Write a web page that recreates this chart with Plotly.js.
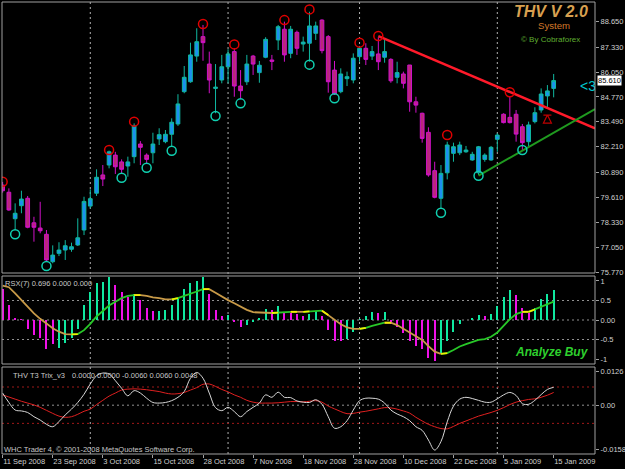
<!DOCTYPE html>
<html><head><meta charset="utf-8">
<script src="https://cdn.plot.ly/plotly-3.0.1.min.js"></script>
<style>html,body{margin:0;padding:0;background:#000;}#chart{width:625px;height:469px;}</style>
</head><body><div id="chart"></div>
<script>
// ---- data ----
const openP  = [80.24,79.87,78.51,79.18,79.56,78.30,78.03,77.71,76.30,76.73,76.90,76.94,77.16,77.93,79.16,79.82,80.76,81.27,81.78,81.43,81.22,81.70,82.35,81.78,81.90,82.61,82.47,82.85,83.38,85.04,85.55,86.87,87.87,86.46,85.21,85.64,86.32,87.10,85.33,85.55,86.87,86.02,86.81,86.67,87.70,88.25,87.01,88.09,87.49,87.53,88.04,88.72,87.87,86.15,85.04,85.71,85.64,86.84,87.27,86.87,86.98,86.81,86.70,85.78,85.95,86.41,84.52,83.93,82.95,80.98,79.56,80.87,81.87,81.90,81.95,81.53,80.87,81.56,81.53,82.59,83.88,83.72,83.88,83.24,82.47,83.50,84.10,84.82,85.21];
const highP  = [80.40,80.07,79.30,79.95,79.68,78.61,79.38,77.93,77.14,77.30,77.41,77.28,78.53,79.64,80.02,81.05,81.27,82.01,81.95,81.56,81.70,83.41,82.50,81.87,82.93,83.16,83.07,83.67,84.91,86.36,87.56,88.30,88.47,87.10,86.46,86.93,87.22,87.27,86.15,86.93,86.93,86.62,87.84,86.93,88.47,88.64,88.42,88.18,87.87,89.15,88.64,88.76,87.95,86.62,86.24,86.07,87.01,87.39,87.53,87.39,87.84,87.70,86.76,86.58,86.07,86.41,84.78,83.96,83.21,81.44,81.27,82.47,82.42,82.47,82.25,81.95,82.25,81.87,82.25,82.90,83.93,84.78,84.10,83.38,83.50,84.24,85.21,85.38,85.95];
const lowP   = [79.85,78.92,77.93,78.79,78.02,77.33,77.76,76.30,76.22,76.59,76.39,76.81,77.11,77.67,79.04,79.68,80.19,81.10,80.81,80.81,80.67,81.36,81.27,81.32,81.36,82.30,82.39,82.21,83.28,84.96,85.50,86.58,86.63,84.96,83.93,85.47,85.47,84.78,84.65,85.38,85.90,85.50,86.76,86.15,87.18,86.58,86.76,86.93,87.10,86.58,87.70,87.01,84.99,84.87,84.96,85.33,85.47,86.58,86.41,86.67,86.15,86.53,85.50,85.47,85.21,84.01,83.96,82.42,80.67,79.56,79.04,80.53,81.44,81.78,81.90,81.49,80.76,81.44,81.49,81.95,83.41,83.41,82.47,82.04,82.21,83.41,83.96,84.24,84.75];
const closeP = [79.95,78.96,78.79,79.52,78.07,78.07,77.89,76.39,76.64,76.90,77.12,77.07,77.53,79.40,79.54,80.64,80.55,81.95,81.18,81.05,81.43,83.28,82.18,81.56,82.35,82.83,82.85,83.47,84.41,85.78,86.93,87.61,87.56,85.64,85.27,86.32,86.98,85.33,85.09,86.46,86.46,86.40,87.73,86.60,88.38,86.93,88.25,87.27,87.59,88.42,88.42,87.15,85.55,84.92,85.95,85.81,86.76,87.27,86.70,87.10,86.58,87.10,85.60,86.02,85.47,84.52,84.35,82.64,80.76,79.61,80.84,82.30,82.21,82.30,82.04,81.82,82.21,81.78,82.18,82.81,83.45,83.45,82.86,82.42,83.33,83.96,84.92,85.08,85.61];

const swingHighIdx = [0,17,21,32,37,45,49,57,60,71,81];
const swingHighY   = [80.41,82.04,83.50,88.52,87.47,88.72,89.27,87.56,87.90,82.81,85.01];
const swingLowIdx  = [2,7,19,23,27,34,38,49,53,70,76,83];
const swingLowY    = [77.71,76.08,80.62,81.13,82.00,83.79,84.44,86.43,84.70,78.82,80.72,82.04];

const redTrendX = [60, 94.6];   const redTrendY = [87.90, 83.16];
const greenTrendX = [76, 94.6]; const greenTrendY = [80.72, 84.15];
const arrowIdx = [87]; const arrowY = [83.84];

const rsxHist = [0.79,0.38,0.06,0.02,-0.24,-0.38,-0.47,-0.75,-0.62,-0.71,-0.58,-0.47,-0.24,0.38,0.73,0.94,0.98,1.09,0.90,0.73,0.60,0.67,0.51,0.30,0.24,0.24,0.26,0.38,0.56,0.79,0.94,1.01,1.09,0.67,0.26,0.10,0.13,-0.04,-0.19,-0.13,-0.04,0.04,0.27,0.26,0.36,0.21,0.19,0.15,0.11,0.15,0.24,0.09,-0.26,-0.53,-0.53,-0.49,-0.30,0.02,0.10,0.21,0.19,0.21,-0.09,-0.17,-0.34,-0.54,-0.67,-0.75,-0.98,-1.04,-0.84,-0.54,-0.30,-0.11,0.01,0.04,0.13,0.10,0.15,0.36,0.58,0.77,0.64,0.30,0.19,0.32,0.53,0.67,0.77];
const rsxHistState = ['m','m','m','m','m','m','m','m','m','g','g','g','g','g','g','g','g','g','m','m','m','g','m','m','m','g','g','g','g','g','g','g','g','m','m','m','g','m','m','g','g','g','g','m','g','m','m','m','m','g','g','m','m','m','m','g','g','g','g','g','m','g','m','m','m','m','m','m','m','m','g','g','g','g','g','g','g','m','g','g','g','g','m','m','m','g','g','g','g'];
const rsxLine = [0.88,0.84,0.68,0.51,0.34,0.17,0.03,-0.10,-0.21,-0.30,-0.36,-0.37,-0.36,-0.26,-0.10,0.09,0.24,0.37,0.47,0.56,0.62,0.64,0.64,0.62,0.58,0.56,0.53,0.53,0.56,0.62,0.67,0.73,0.79,0.79,0.70,0.60,0.51,0.43,0.34,0.26,0.20,0.19,0.19,0.18,0.19,0.20,0.21,0.21,0.21,0.22,0.23,0.24,0.13,0.00,-0.11,-0.19,-0.23,-0.23,-0.20,-0.15,-0.10,-0.07,-0.07,-0.13,-0.23,-0.32,-0.43,-0.51,-0.67,-0.81,-0.87,-0.85,-0.77,-0.68,-0.62,-0.56,-0.51,-0.49,-0.43,-0.32,-0.15,0.02,0.15,0.21,0.21,0.27,0.34,0.40,0.47];

const trixWhite = [0.0040,0.0009,-0.0016,-0.0019,-0.0024,-0.0038,-0.0049,-0.0063,-0.0071,-0.0054,-0.0032,-0.0013,0.0009,0.0036,0.0070,0.0097,0.0106,0.0103,0.0081,0.0056,0.0031,0.0048,0.0040,0.0023,0.0009,0.0007,0.0009,0.0015,0.0026,0.0045,0.0089,0.0108,0.0089,0.0040,-0.0008,-0.0018,-0.0007,-0.0021,-0.0038,-0.0021,-0.0007,0.0007,0.0034,0.0026,0.0043,0.0026,0.0025,0.0014,0.0010,0.0009,0.0018,0.0003,-0.0038,-0.0076,-0.0071,-0.0051,-0.0016,0.0015,0.0023,0.0023,0.0020,0.0007,-0.0016,-0.0029,-0.0038,-0.0051,-0.0071,-0.0083,-0.0115,-0.0148,-0.0120,-0.0055,-0.0003,0.0020,0.0026,0.0022,0.0016,0.0010,0.0010,0.0021,0.0034,0.0042,0.0032,0.0005,0.0003,0.0016,0.0035,0.0052,0.0059];
const trixRed = [0.0034,0.0027,0.0020,0.0013,0.0007,0.0001,-0.0007,-0.0017,-0.0027,-0.0036,-0.0040,-0.0038,-0.0030,-0.0020,-0.0013,0.0002,0.0016,0.0030,0.0040,0.0050,0.0053,0.0054,0.0053,0.0051,0.0048,0.0045,0.0040,0.0037,0.0038,0.0042,0.0050,0.0058,0.0069,0.0070,0.0062,0.0052,0.0044,0.0034,0.0026,0.0016,0.0010,0.0007,0.0007,0.0007,0.0008,0.0010,0.0012,0.0012,0.0011,0.0013,0.0015,0.0010,-0.0003,-0.0012,-0.0021,-0.0028,-0.0027,-0.0023,-0.0020,-0.0016,-0.0012,-0.0008,-0.0009,-0.0013,-0.0019,-0.0026,-0.0040,-0.0052,-0.0063,-0.0071,-0.0077,-0.0078,-0.0070,-0.0060,-0.0052,-0.0044,-0.0036,-0.0030,-0.0024,-0.0017,-0.0008,0.0002,0.0010,0.0015,0.0019,0.0021,0.0026,0.0033,0.0042];

const dateTickIdx = [0,8,16,24,32,40,48,56,64,72,80,88];
const dateTickText = ['11 Sep 2008','23 Sep 2008','3 Oct 2008','15 Oct 2008','28 Oct 2008','7 Nov 2008','18 Nov 2008','28 Nov 2008','10 Dec 2008','22 Dec 2008','5 Jan 2009','15 Jan 2009'];
const priceTicks = [88.65,87.33,86.05,84.77,83.49,82.21,80.89,79.61,78.33,77.05,75.77];
const gridBars = [14,36,57,79];
const lastPrice = 85.61;

// ---- build ----
const W = 625, H = 469;
const px = v => v / W, py = v => 1 - v / H;
const bars = closeP.map((_, i) => i);
const FONT = 'Liberation Sans, Arial, sans-serif';

const traces = [];
traces.push({type:'candlestick', x:bars, open:openP, high:highP, low:lowP, close:closeP, xaxis:'x', yaxis:'y',
  increasing:{line:{color:'#10b8a0', width:1}, fillcolor:'#1c8ff0'},
  decreasing:{line:{color:'#d010c8', width:1}, fillcolor:'#b8287a'},
  whiskerwidth:0, hoverinfo:'skip'});
traces.push({type:'scatter', mode:'lines', x:redTrendX, y:redTrendY, yaxis:'y', line:{color:'#ff1a2a', width:2.5}, hoverinfo:'skip'});
traces.push({type:'scatter', mode:'lines', x:greenTrendX, y:greenTrendY, yaxis:'y', line:{color:'#1f9a1f', width:2}, hoverinfo:'skip'});
traces.push({type:'scatter', mode:'markers', x:swingHighIdx, y:swingHighY, yaxis:'y',
  marker:{symbol:'circle-open', size:9, color:'#e00000', line:{width:1.5, color:'#e00000'}}, hoverinfo:'skip'});
traces.push({type:'scatter', mode:'markers', x:swingLowIdx, y:swingLowY, yaxis:'y',
  marker:{symbol:'circle-open', size:9, color:'#10d0b0', line:{width:1.5, color:'#10d0b0'}}, hoverinfo:'skip'});
traces.push({type:'scatter', mode:'markers', x:arrowIdx, y:arrowY, yaxis:'y',
  marker:{symbol:'arrow-bar-up-open', size:8, color:'#c00000', line:{width:1.2, color:'#c00000'}}, hoverinfo:'skip'});
traces.push({type:'scatter', mode:'text', x:[92.2], y:[85.25], yaxis:'y', text:['<3'], textposition:'middle right',
  textfont:{family:FONT, size:14, color:'#00c8d0'}, cliponaxis:true, hoverinfo:'skip'});

// RSX histogram
traces.push({type:'bar', x:bars, y:rsxHist, xaxis:'x', yaxis:'y2', width:0.32,
  marker:{color:rsxHistState.map(s => s === 'g' ? '#10e8a0' : '#f010e8'), line:{width:0}}, hoverinfo:'skip'});
// RSX line coloured by direction, yellow at turns
let seg = null;
const segs = [];
for (let i = 1; i < rsxLine.length; i++) {
  const up = rsxLine[i] > rsxLine[i-1];
  if (!seg || seg.up !== up) { seg = {up, start:i-1, x:[i-1], y:[rsxLine[i-1]]}; segs.push(seg); }
  seg.x.push(i); seg.y.push(rsxLine[i]);
}
segs.forEach(s => traces.push({type:'scatter', mode:'lines', x:s.x, y:s.y, yaxis:'y2',
  line:{color: s.up ? '#28c828' : '#c89a48', width:1.8}, hoverinfo:'skip'}));
segs.slice(1).forEach(s => traces.push({type:'scatter', mode:'lines', x:s.x.slice(0,2), y:s.y.slice(0,2), yaxis:'y2',
  line:{color:'#f0f000', width:1.8}, hoverinfo:'skip'}));
// Trix
traces.push({type:'scatter', mode:'lines', x:bars, y:trixRed, yaxis:'y3', line:{color:'#e02020', width:1, shape:'spline'}, hoverinfo:'skip'});
traces.push({type:'scatter', mode:'lines', x:bars, y:trixWhite, yaxis:'y3', line:{color:'#d8d8d8', width:1, shape:'spline'}, hoverinfo:'skip'});

const panels = [[2,273],[276,364],[367,454]];
const shapes = [];
gridBars.forEach(b => shapes.push({type:'line', xref:'x', yref:'paper', x0:b, x1:b, y0:py(454), y1:py(2),
  line:{color:'#b0b0b0', width:1, dash:'2px,3px'}, layer:'below'}));
[0.5, 0, -0.5].forEach(v => shapes.push({type:'line', xref:'paper', yref:'y2', x0:px(2), x1:px(595), y0:v, y1:v,
  line:{color:'#909090', width:1, dash:'2px,3px'}, layer:'below'}));
[0.006, -0.006].forEach(v => shapes.push({type:'line', xref:'paper', yref:'y3', x0:px(2), x1:px(595), y0:v, y1:v,
  line:{color:'#a01818', width:1, dash:'2px,3px'}, layer:'below'}));
shapes.push({type:'line', xref:'paper', yref:'y3', x0:px(2), x1:px(595), y0:0, y1:0, line:{color:'#909090', width:1, dash:'2px,3px'}, layer:'below'});
panels.forEach(p => shapes.push({type:'rect', xref:'paper', yref:'paper', x0:px(2), x1:px(595), y0:py(p[1]), y1:py(p[0]),
  line:{color:'#a0a0a0', width:1}, fillcolor:'rgba(0,0,0,0)'}));

const ann = (text, x, y, opts) => Object.assign({text, xref:'paper', yref:'paper', x:px(x), y:py(y), showarrow:false,
  xanchor:'left', yanchor:'middle', borderpad:0, font:{family:FONT, size:7.5, color:'#c8c8c8'}}, opts || {});
const annotations = [
  ann('<b><i>THV V 2.0</i></b>', 551, 12, {xanchor:'center', font:{family:FONT, size:16, color:'#d8a050'}}),
  ann('System', 554, 26, {xanchor:'center', font:{family:FONT, size:9.6, color:'#d2782a'}}),
  ann('© By Cobraforex', 550, 39.5, {xanchor:'center', font:{family:FONT, size:8, color:'#5fae30'}}),
  ann('RSX(7) 0.696 0.000 0.000', 4, 283),
  ann('<b><i>Analyze Buy</i></b>', 552, 352, {xanchor:'center', font:{family:FONT, size:12, color:'#2ed02e'}}),
  ann('THV T3 Trix_v3', 12, 375),
  ann('0.0000 0.0000 -0.0060 0.0060 0.0048', 71, 375),
  ann('WHC Trader 4, © 2001-2008 MetaQuotes Software Corp.', 3, 449),
  {text:'85.610', xref:'paper', yref:'y', x:px(597), y:lastPrice, showarrow:false, xanchor:'left', yanchor:'middle',
   bgcolor:'#ffffff', borderpad:0, font:{family:FONT, size:7.5, color:'#000'}}
];

const axFont = {family:FONT, size:7.5, color:'#d0d0d0'};
const yCommon = {side:'right', anchor:'x', ticks:'outside', ticklen:3, tickcolor:'#a0a0a0', showgrid:false, zeroline:false,
  showline:false, tickfont:axFont, fixedrange:true};
const layout = {
  width:W, height:H, paper_bgcolor:'#000', plot_bgcolor:'#000', margin:{l:0,r:0,t:0,b:0}, showlegend:false,
  font:{family:FONT, size:7.5, color:'#d0d0d0'}, bargap:0, boxgap:0.15, shapes, annotations,
  xaxis:{domain:[px(2), px(595)], range:[-0.1, 94.6], anchor:'y3', tickvals:dateTickIdx, ticktext:dateTickText,
    tickangle:0, ticks:'outside', ticklen:3, tickcolor:'#a0a0a0', ticklabelposition:'outside right', tickfont:axFont,
    showgrid:false, zeroline:false, showline:false, rangeslider:{visible:false}, fixedrange:true},
  yaxis:Object.assign({}, yCommon, {domain:[py(273), py(2)], range:[75.72, 89.65], tickvals:priceTicks,
    ticktext:priceTicks.map(v => v.toFixed(3))}),
  yaxis2:Object.assign({}, yCommon, {domain:[py(364), py(276)], range:[-1.128, 1.128], tickvals:[1,0.5,0,-0.5,-1],
    ticktext:['1','0.5','0.00','-0.5','-1']}),
  yaxis3:Object.assign({}, yCommon, {domain:[py(454), py(367)], range:[-0.0161, 0.0126], tickvals:[0.0110, 0, -0.0146],
    ticktext:['0.0126','0.00','-0.0158']})
};
Plotly.newPlot('chart', traces, layout, {staticPlot:true, displayModeBar:false});
</script></body></html>
